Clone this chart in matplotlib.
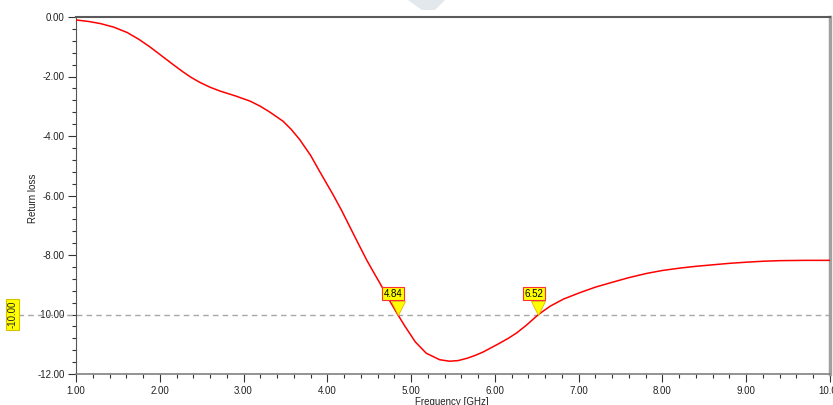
import numpy as np
import matplotlib
matplotlib.use('Agg')
import matplotlib.pyplot as plt
from matplotlib.patches import Polygon
from matplotlib.ticker import MultipleLocator, FormatStrFormatter

plt.rcParams['font.family'] = ['Liberation Sans', 'DejaVu Sans']
plt.rcParams['font.size'] = 7

# return loss curve
freq = [1.00, 1.15, 1.29, 1.45, 1.61, 1.75, 1.88, 2.02, 2.16, 2.28, 2.38, 2.48,
        2.60, 2.72, 2.90, 3.08, 3.20, 3.31, 3.47, 3.57, 3.67, 3.80, 3.91, 4.07,
        4.17, 4.27, 4.37, 4.47, 4.55, 4.63, 4.73, 4.84, 4.93, 5.05, 5.18, 5.34,
        5.46, 5.56, 5.67, 5.76, 5.86, 5.96, 6.06, 6.16, 6.26, 6.38, 6.52, 6.66,
        6.82, 7.01, 7.20, 7.41, 7.60, 7.81, 8.00, 8.21, 8.40, 8.60, 8.80, 9.01,
        9.20, 9.40, 9.70, 10.00]
rloss = [-0.10, -0.15, -0.22, -0.34, -0.52, -0.75, -1.00, -1.30, -1.60, -1.85, -2.04, -2.20,
         -2.36, -2.49, -2.65, -2.83, -3.00, -3.19, -3.50, -3.78, -4.12, -4.65, -5.20, -5.98,
         -6.50, -7.06, -7.62, -8.17, -8.57, -8.96, -9.47, -10.00, -10.41, -10.92, -11.30, -11.52,
         -11.57, -11.55, -11.47, -11.38, -11.26, -11.11, -10.96, -10.80, -10.62, -10.35, -10.00, -9.72,
         -9.48, -9.27, -9.08, -8.91, -8.76, -8.62, -8.52, -8.44, -8.38, -8.33, -8.28, -8.24,
         -8.21, -8.19, -8.18, -8.18]

level = -10.0
markers = [4.84, 6.52]

fig = plt.figure(figsize=(8.33, 4.05), dpi=100)
ax = fig.add_axes([76/833, 1-374/405, 754/833, 357/405])

ax.plot(freq, rloss, color='red', lw=1.1, zorder=3, solid_joinstyle='round')

# -10 dB reference line, runs past the left axis
ax.axhline(level, xmin=-0.077, xmax=1, color='#a8a8a8', lw=1, ls=(0, (4, 3)),
           clip_on=False, zorder=2)

for m in markers:
    ax.plot(m, level + 0.235, marker='v', ms=10, mfc='#ffff00', mec='#e8b400',
            mew=0.6, zorder=4)
    ax.annotate('%.2f' % m, xy=(m, level), xytext=(-3.2, 14.8),
                textcoords='offset points', ha='center', va='center', fontsize=7,
                bbox=dict(boxstyle='square,pad=0.15', fc='#ffff00', ec='#ff3030', lw=0.8),
                zorder=5)

ax.set_xlim(1, 10)
ax.set_ylim(-12, 0)
ax.xaxis.set_major_locator(MultipleLocator(1))
ax.xaxis.set_minor_locator(MultipleLocator(0.2))
ax.yaxis.set_major_locator(MultipleLocator(2))
ax.yaxis.set_minor_locator(MultipleLocator(0.4))
ax.xaxis.set_major_formatter(FormatStrFormatter('%.2f'))
ax.yaxis.set_major_formatter(FormatStrFormatter('%.2f'))
ax.tick_params(which='major', direction='out', length=5.8, width=0.8, color='#333333',
               labelcolor='#222222', labelsize=7, pad=2.5)
ax.tick_params(which='minor', direction='out', length=2.6, width=0.8, color='#333333')

ax.spines['top'].set_color('#5a5a5a')
ax.spines['top'].set_linewidth(1.5)
ax.spines['right'].set_color('#a0a0a0')
ax.spines['right'].set_linewidth(2.5)
ax.spines['bottom'].set_color('#808080')
ax.spines['bottom'].set_linewidth(1.2)
ax.spines['left'].set_color('#555555')
ax.spines['left'].set_linewidth(0.8)

fig.text(33/833, 1-198/405, 'Return loss', rotation=90, ha='center', va='center',
         fontsize=7, color='#222222')
fig.text(452/833, 1-397/405, 'Frequency [GHz]', ha='center', va='top',
         fontsize=7, color='#222222')
fig.text(12.5/833, 1-314.5/405, '-10.00', rotation=90, ha='center', va='center',
         fontsize=7, color='#222222',
         bbox=dict(boxstyle='square,pad=0.15', fc='#ffff00', ec='#d8c000', lw=0.8))

# light grey tab at the top edge
tab = Polygon([(408/833, 1.0), (445/833, 1.0), (435/833, 1-10/405), (422/833, 1-10/405)],
              closed=True, transform=fig.transFigure, fc='#e2e8ec', ec='none')
fig.patches.append(tab)

fig.savefig('out.png', dpi=100)
